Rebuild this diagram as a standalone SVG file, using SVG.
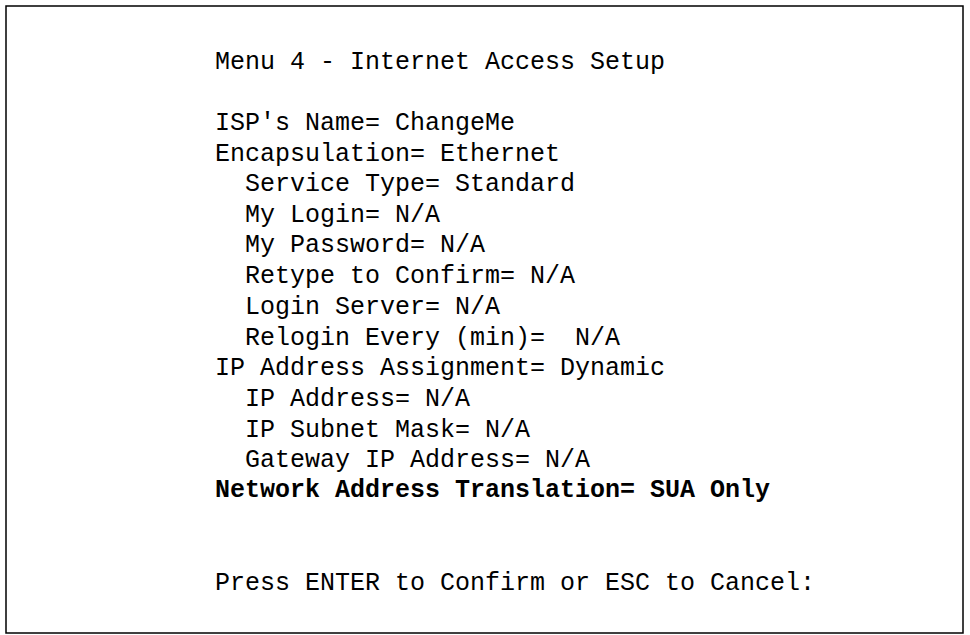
<svg xmlns="http://www.w3.org/2000/svg" width="970" height="635" viewBox="0 0 970 635">
<style>text{font-family:"Liberation Mono","Courier New",monospace;font-size:25px;fill:#000;white-space:pre}.b{font-weight:bold}</style>
<rect width="970" height="635" fill="#fff"/>
<rect x="6" y="6" width="957" height="627" fill="none" stroke="#000" stroke-width="1.5"/>
<g id="screen">
<text x="215" y="69">Menu 4 - Internet Access Setup</text>
<text x="215" y="130">ISP's Name= ChangeMe</text>
<text x="215" y="161">Encapsulation= Ethernet</text>
<text x="215" y="191">  Service Type= Standard</text>
<text x="215" y="222">  My Login= N/A</text>
<text x="215" y="252">  My Password= N/A</text>
<text x="215" y="283">  Retype to Confirm= N/A</text>
<text x="215" y="314">  Login Server= N/A</text>
<text x="215" y="345">  Relogin Every (min)=  N/A</text>
<text x="215" y="375">IP Address Assignment= Dynamic</text>
<text x="215" y="406">  IP Address= N/A</text>
<text x="215" y="437">  IP Subnet Mask= N/A</text>
<text x="215" y="467">  Gateway IP Address= N/A</text>
<text x="215" y="497" class="b">Network Address Translation= SUA Only</text>
<text x="215" y="590">Press ENTER to Confirm or ESC to Cancel:</text>
</g>
</svg>
